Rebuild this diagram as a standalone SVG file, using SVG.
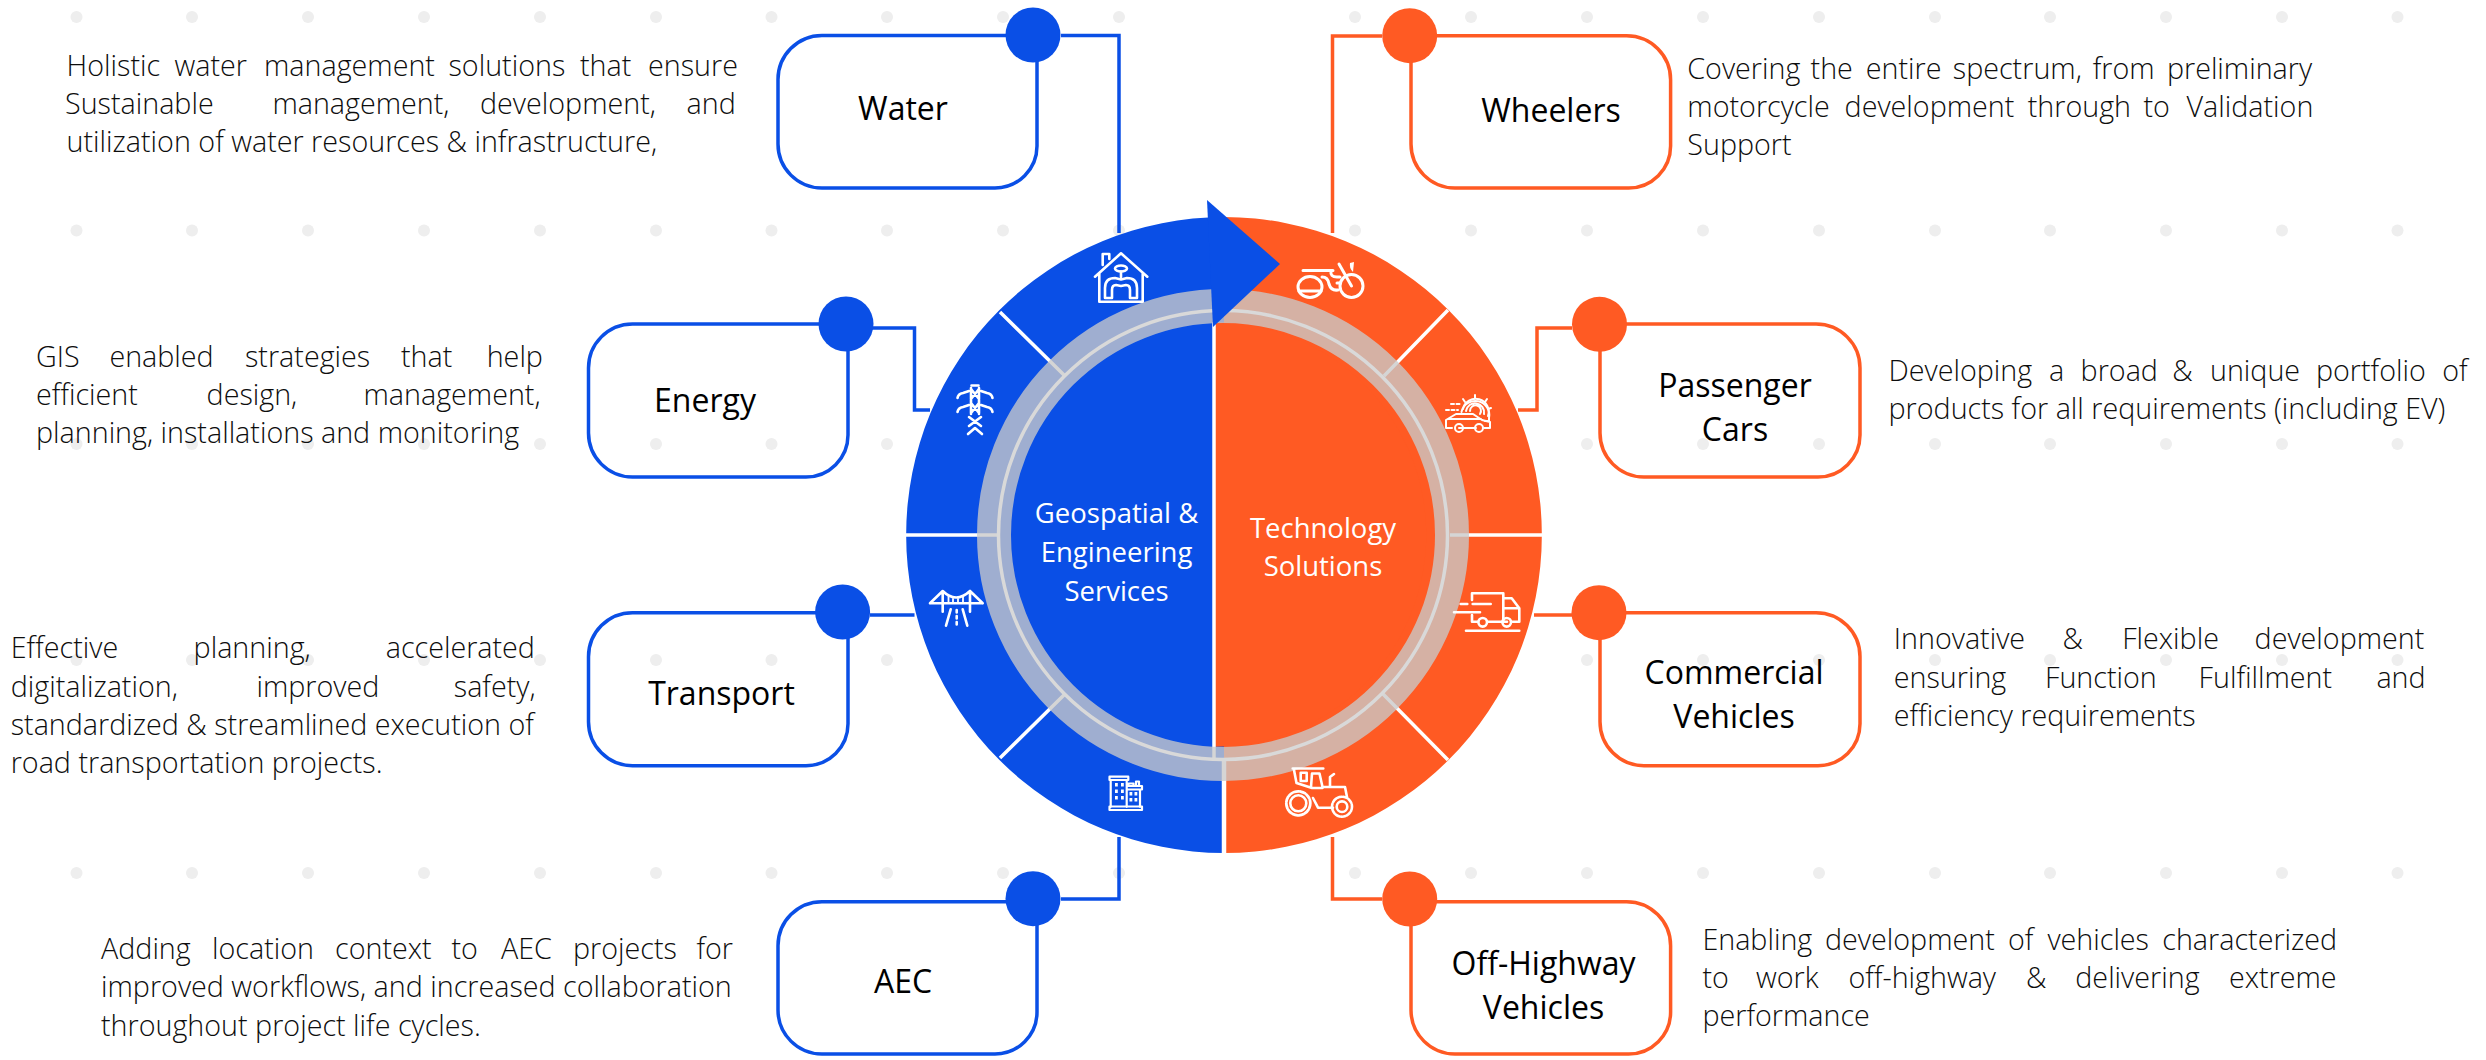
<svg xmlns="http://www.w3.org/2000/svg" width="2486" height="1060" viewBox="0 0 2486 1060">
<style>
text{font-family:"Open Sans","Noto Sans","Liberation Sans",sans-serif}
.b{font-size:28.700px;font-weight:300;fill:#0d0d0d}
.l{font-size:32px;font-weight:400;fill:#000;text-anchor:middle}
.c{font-size:27.500px;font-weight:400;fill:#fff;text-anchor:middle}
.bl{fill:#0a4fe6}.or{fill:#ff5a23}
.bs{fill:none;stroke:#0a4fe6;stroke-width:3.5}
.os{fill:none;stroke:#ff5a23;stroke-width:3.5}
.w{fill:none;stroke:#fff;stroke-width:2.6;stroke-linecap:round;stroke-linejoin:round}
.wf{fill:#fff}
.dv{stroke:#fff;stroke-width:3.5;fill:none}
.dot{fill:#eeeeee}
</style>
<defs>
<circle id="d" r="6" class="dot"/>
<g id="dots"><use href="#d" x="76.5"/><use href="#d" x="192"/><use href="#d" x="308"/><use href="#d" x="424"/><use href="#d" x="540"/><use href="#d" x="656"/><use href="#d" x="771.5"/><use href="#d" x="887"/></g>
<g id="dotsR"><use href="#d" x="1587"/><use href="#d" x="1703"/><use href="#d" x="1819"/><use href="#d" x="1935"/><use href="#d" x="2050"/><use href="#d" x="2166"/><use href="#d" x="2282"/><use href="#d" x="2397.5"/></g>
<g id="extra"><use href="#d" x="1003"/><use href="#d" x="1119"/><use href="#d" x="1355"/><use href="#d" x="1471"/></g>
</defs>
<rect width="2486" height="1060" fill="#fff"/>
<g id="background-dots">
<use href="#dots" y="17"/><use href="#dotsR" y="17"/><use href="#extra" y="17"/>
<use href="#dots" y="230.6"/><use href="#dotsR" y="230.6"/><use href="#extra" y="230.6"/>
<use href="#dots" y="444"/><use href="#dotsR" y="444"/>
<use href="#dots" y="660"/><use href="#dotsR" y="660"/>
<use href="#dots" y="873"/><use href="#dotsR" y="873"/><use href="#extra" y="873"/>
</g>
<g id="connectors">
<path class="bs" d="M1061,35.5H1119V233"/>
<path class="bs" d="M872,328H914.5V410H930"/>
<path class="bs" d="M870,615H914.5"/>
<path class="bs" d="M1061,899H1119V837"/>
<path class="os" d="M1382,36H1332.5V233"/>
<path class="os" d="M1572,328H1537V410H1518"/>
<path class="os" d="M1572,615H1534"/>
<path class="os" d="M1382,899H1332.5V837"/>
</g>
<g id="hub">
<path class="bl" d="M1224,217A318,318 0 0 0 1224,853Z"/>
<path class="or" d="M1224,217A318,318 0 0 1 1224,853Z"/>
<path class="bl" d="M1214,322.300A212,212 0 0 0 1214,746.800Z"/>
<path class="or" d="M1214,322.300A212,212 0 0 1 1214,746.800Z"/>
<g class="dv">
<path d="M906,535H1000M1450,535H1542M1000,312L1065,376M1000,758L1065,694M1448,310L1384,376M1448,760L1383,694"/>
<path d="M1214,322V760"/>
<path d="M1224,760V853" stroke-width="4.500"/>
</g>
<circle cx="1223" cy="535" r="229" fill="none" stroke="#c9c9c9" stroke-width="34" stroke-opacity=".78"/>
<circle cx="1223" cy="535" r="224.500" fill="none" stroke="#d9d9d9" stroke-width="3.500"/>
<path class="bl" d="M1207,200L1280,264L1213,327Z"/>
<text class="c" x="1116.500" y="523">Geospatial &amp;</text>
<text class="c" x="1116.500" y="562">Engineering</text>
<text class="c" x="1116.500" y="600.500">Services</text>
<text class="c" x="1323" y="538">Technology</text>
<text class="c" x="1323" y="576">Solutions</text>
</g>
<g id="icon-water" class="w">
<path d="M1095,276.700L1121,253.300L1147.300,276.700M1099.300,273V301.700H1142.700V273M1102.700,265V254H1109.300V259"/>
<ellipse cx="1121" cy="268.500" rx="6" ry="3"/>
<path d="M1121,271.500V277M1105,298V288Q1105,278 1115,278L1121,279.500L1127,278Q1137,278 1137,288V298H1130V290Q1130,285 1126,285L1121,286L1116,285Q1112,285 1112,290V298Z"/>
</g>
<g id="icon-energy" class="w" stroke-width="2.500">
<path d="M971.500,385.500H978.500M971,389L979,399M979,389L971,399M971,403L979,413M979,403L971,413M969,417L981,426M981,417L969,426M968,434L975,428L982,434M971,388V414M979,388V414"/>
<path d="M957.500,398Q958,394 963,393L969,391M992.500,398Q992,394 987,393L981,391M957.500,412Q958,408 963,407L969,405M992.500,412Q992,408 987,407L981,405"/>
</g>
<g id="icon-transport" class="w">
<path d="M930,603.300H982.700M942.700,591V611.700M970,591V611.700M930,603.300L942.700,591Q956,604 970,591L982.700,603.300"/>
<path stroke-width="1.800" d="M948.500,596V603M953,599V603M958,599V603M963,596V603"/>
<path d="M950.700,609.300L946,625.700M962.700,609.300L967.300,625.700"/>
<path stroke-dasharray="2.500 3.500" d="M956.700,610V626"/>
</g>
<g id="icon-aec" class="w" style="stroke-width:2.200">
<path d="M1109.500,776.700H1128.300V780H1109.500ZM1110.700,780V807M1126.700,780V807M1127.300,786H1142V789.500H1127.300M1140,789.500V807M1109.500,806.500H1142V810H1109.500ZM1128.500,786V783.500H1133.500V786M1136,785V781.500H1139V785"/>
<g class="wf" stroke="none">
<rect x="1115" y="783" width="2.800" height="3.500"/><rect x="1121" y="783" width="2.800" height="3.500"/>
<rect x="1115" y="789.500" width="2.800" height="3.500"/><rect x="1121" y="789.500" width="2.800" height="3.500"/>
<rect x="1115" y="796" width="2.800" height="3.500"/><rect x="1121" y="796" width="2.800" height="3.500"/>
<rect x="1129.500" y="792" width="2.800" height="3.500"/><rect x="1134.500" y="792" width="2.800" height="3.500"/>
<rect x="1129.500" y="798" width="2.800" height="3.500"/><rect x="1134.500" y="798" width="2.800" height="3.500"/>
</g>
</g>
<g id="icon-wheelers" class="w" style="stroke-width:3">
<circle cx="1351.500" cy="286" r="11.500"/>
<ellipse cx="1310" cy="287" rx="12" ry="10.500"/>
<path d="M1299,291H1321M1303,270.500H1333M1322,277Q1328,277 1329,284Q1331,291 1338,290M1331,271Q1330,277 1337,277H1340M1339,264L1351.500,286M1337,283H1340"/>
<path class="wf" stroke="none" d="M1350,263L1354,262L1353,272Q1349,268 1350,263Z"/>
</g>
<g id="icon-cars" class="w" style="stroke-width:2">
<path d="M1461.500,412A14,14 0 1 1 1489,418V421H1485"/>
<path d="M1463,409A13,13 0 1 1 1488,416M1466,411A9,9 0 1 1 1484,414M1470,411A5.500,5.500 0 1 1 1480,414"/>
<path d="M1475,395V398M1463,399L1465,402M1487,399L1485,402M1491,408L1488,409"/>
<path d="M1446,428V420L1456,414H1473L1482,420L1490,422V428H1484M1452,428H1446M1459,428H1476M1448,419H1481"/>
<circle cx="1459" cy="428" r="4"/><circle cx="1479" cy="428" r="4"/>
<path stroke-dasharray="3 2.500" d="M1451,404H1460M1446,410H1458"/>
</g>
<g id="icon-commercial" class="w">
<path d="M1472,600V593.300H1503.300V621.700M1472,615V621.700H1478M1488,621.700H1507M1503.300,598.300H1511.700L1519.300,608.300V621.700H1511.700M1504,608.300H1519"/>
<circle cx="1482.700" cy="622.300" r="4.300"/><circle cx="1506.700" cy="622.300" r="4.300"/>
<path d="M1460.700,604H1467.300M1472.700,604H1490.700M1454,612.300H1480M1466,630.700H1519.300"/>
</g>
<g id="icon-offhighway" class="w">
<circle cx="1298.300" cy="803.300" r="12" stroke-width="2.800" stroke-dasharray="5 1.500"/>
<circle cx="1298.300" cy="803.300" r="8"/>
<circle cx="1342" cy="806.700" r="10" stroke-dasharray="4.500 1.500"/>
<circle cx="1342" cy="806.700" r="5.300"/>
<path d="M1292.700,768.500H1323.300M1294,770L1296.500,783L1312,788M1300.700,772.700H1306.700V781H1300.700ZM1312,773.500H1319.500L1322.500,787H1328V787H1345L1347,797M1312,773.500L1311,787M1313,788H1322.500M1330,787V777L1334,774M1313,798L1318,807.700H1333"/>
</g>
<g id="node-water">
<path class="bs" d="M1037,35.500V146A42,42 0 0 1 995,188H822A44,44 0 0 1 778,144V80A44,44 0 0 1 822,35.500Z"/>
<circle class="bl" cx="1033" cy="35" r="27.500"/>
<text class="l" x="903" y="120">Water</text>
</g>
<g id="node-energy">
<path class="bs" d="M848,324V435A42,42 0 0 1 806,477H632.500A44,44 0 0 1 588.500,433V368A44,44 0 0 1 632.500,324Z"/>
<circle class="bl" cx="846" cy="324" r="27.500"/>
<text class="l" x="705" y="411.500">Energy</text>
</g>
<g id="node-transport">
<path class="bs" d="M848,612.700V723.700A42,42 0 0 1 806,765.700H632.500A44,44 0 0 1 588.500,721.700V656.700A44,44 0 0 1 632.500,612.700Z"/>
<circle class="bl" cx="842.600" cy="612" r="27.500"/>
<text class="l" x="721.500" y="704.500">Transport</text>
</g>
<g id="node-aec">
<path class="bs" d="M1037,901.700V1012A42,42 0 0 1 995,1054H822A44,44 0 0 1 778,1010V945.700A44,44 0 0 1 822,901.700Z"/>
<circle class="bl" cx="1033" cy="898.700" r="27.500"/>
<text class="l" x="903" y="992.500">AEC</text>
</g>
<g id="node-wheelers">
<path class="os" d="M1411,35.700V144A44,44 0 0 0 1455,188H1628.600A42,42 0 0 0 1670.600,146V80A44,44 0 0 0 1626.600,35.700Z"/>
<circle class="or" cx="1409.700" cy="35.700" r="27.500"/>
<text class="l" x="1551" y="121.500">Wheelers</text>
</g>
<g id="node-cars">
<path class="os" d="M1600,324V433A44,44 0 0 0 1644,477H1818A42,42 0 0 0 1860,435V368A44,44 0 0 0 1816,324Z"/>
<circle class="or" cx="1599.500" cy="324.300" r="27.500"/>
<text class="l" x="1735" y="396.500">Passenger</text>
<text class="l" x="1735" y="440.500">Cars</text>
</g>
<g id="node-commercial">
<path class="os" d="M1600,612.700V721.700A44,44 0 0 0 1644,765.700H1818A42,42 0 0 0 1860,723.700V656.700A44,44 0 0 0 1816,612.700Z"/>
<circle class="or" cx="1599" cy="612.700" r="27.500"/>
<text class="l" x="1734" y="684">Commercial</text>
<text class="l" x="1734" y="728">Vehicles</text>
</g>
<g id="node-offhighway">
<path class="os" d="M1411,901.700V1010A44,44 0 0 0 1455,1054H1628.600A42,42 0 0 0 1670.600,1012V945.700A44,44 0 0 0 1626.600,901.700Z"/>
<circle class="or" cx="1409.700" cy="899" r="27.500"/>
<text class="l" x="1543.500" y="974.500">Off-Highway</text>
<text class="l" x="1543.500" y="1019">Vehicles</text>
</g>
<g id="desc-water" class="b">
<text y="76"><tspan x="66.600">Holistic </tspan><tspan x="174.500">water </tspan><tspan x="264">management </tspan><tspan x="448.500">solutions </tspan><tspan x="580">that </tspan><tspan x="648">ensure</tspan></text>
<text y="114"><tspan x="65">Sustainable </tspan><tspan x="272.400">management, </tspan><tspan x="480">development, </tspan><tspan x="686.500">and</tspan></text>
<text x="66.600" y="152">utilization of water resources &amp; infrastructure,</text>
</g>
<g id="desc-energy" class="b">
<text y="366.700"><tspan x="36">GIS </tspan><tspan x="109.400">enabled </tspan><tspan x="245">strategies </tspan><tspan x="401">that </tspan><tspan x="486.700">help</tspan></text>
<text y="404.500"><tspan x="36">efficient </tspan><tspan x="206.600">design, </tspan><tspan x="363.500">management,</tspan></text>
<text x="36" y="443">planning, installations and monitoring</text>
</g>
<g id="desc-transport" class="b">
<text y="657.700"><tspan x="10.700">Effective </tspan><tspan x="193.600">planning, </tspan><tspan x="385.700">accelerated</tspan></text>
<text y="696.500"><tspan x="10.700">digitalization, </tspan><tspan x="256.400">improved </tspan><tspan x="453.800">safety,</tspan></text>
<text x="10.700" y="735">standardized &amp; streamlined execution of</text>
<text x="10.700" y="773">road transportation projects.</text>
</g>
<g id="desc-aec" class="b">
<text y="959"><tspan x="101">Adding </tspan><tspan x="212">location </tspan><tspan x="335">context </tspan><tspan x="451.500">to </tspan><tspan x="501">AEC </tspan><tspan x="573">projects </tspan><tspan x="696.400">for</tspan></text>
<text x="101" y="997.300">improved workflows, and increased collaboration</text>
<text x="101" y="1035.700">throughout project life cycles.</text>
</g>
<g id="desc-wheelers" class="b">
<text y="79"><tspan x="1687.300">Covering </tspan><tspan x="1810.600">the </tspan><tspan x="1865.800">entire </tspan><tspan x="1952.800">spectrum, </tspan><tspan x="2092.700">from </tspan><tspan x="2166.900">preliminary</tspan></text>
<text y="116.700"><tspan x="1687.300">motorcycle </tspan><tspan x="1844.600">development </tspan><tspan x="2027.700">through </tspan><tspan x="2143.400">to </tspan><tspan x="2186.500">Validation</tspan></text>
<text x="1687.300" y="155">Support</text>
</g>
<g id="desc-cars" class="b">
<text y="380.700"><tspan x="1888.500">Developing </tspan><tspan x="2048.900">a </tspan><tspan x="2080.600">broad </tspan><tspan x="2172.200">&amp; </tspan><tspan x="2210">unique </tspan><tspan x="2315.900">portfolio </tspan><tspan x="2442.200">of</tspan></text>
<text x="1888.500" y="419">products for all requirements (including EV)</text>
</g>
<g id="desc-commercial" class="b">
<text y="649.300"><tspan x="1893.800">Innovative </tspan><tspan x="2062.500">&amp; </tspan><tspan x="2122.200">Flexible </tspan><tspan x="2254.600">development</tspan></text>
<text y="687.700"><tspan x="1893.800">ensuring </tspan><tspan x="2045">Function </tspan><tspan x="2198.600">Fulfillment </tspan><tspan x="2376.400">and</tspan></text>
<text x="1893.800" y="726">efficiency requirements</text>
</g>
<g id="desc-offhighway" class="b">
<text y="950"><tspan x="1702.400">Enabling </tspan><tspan x="1825">development </tspan><tspan x="2008">of </tspan><tspan x="2047.400">vehicles </tspan><tspan x="2162.300">characterized</tspan></text>
<text y="988.300"><tspan x="1702.400">to </tspan><tspan x="1756">work </tspan><tspan x="1848.400">off-highway </tspan><tspan x="2026">&amp; </tspan><tspan x="2075.300">delivering </tspan><tspan x="2228.900">extreme</tspan></text>
<text x="1702.400" y="1026">performance</text>
</g>
</svg>
